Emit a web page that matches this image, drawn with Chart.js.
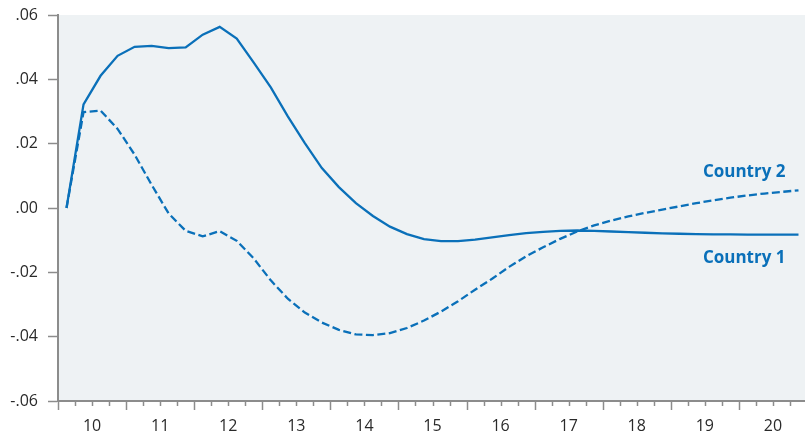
<!DOCTYPE html>
<html>
<head>
<meta charset="utf-8">
<script src="https://cdn.jsdelivr.net/npm/chart.js@4/dist/chart.umd.min.js"></script>
<style>
  html, body { margin: 0; padding: 0; background: #ffffff; overflow: hidden; }
  canvas { display: block; }
</style>
</head>
<body>
<canvas id="chart" width="807" height="433"></canvas>
<script>
// Quarterly periods, years 10 to 20
const years = ['10', '11', '12', '13', '14', '15', '16', '17', '18', '19', '20'];
const quarters = ['Q1', 'Q2', 'Q3', 'Q4'];

// Impulse responses, one value per quarter
const country1 = [
  0.0000, 0.0322, 0.0411, 0.0473, 0.0501, 0.0504, 0.0497, 0.0499,
  0.0539, 0.0563, 0.0527, 0.0452, 0.0375, 0.0285, 0.0202, 0.0124,
  0.0065, 0.0015, -0.0025, -0.0058, -0.0081, -0.0097, -0.0103, -0.0103,
  -0.0098, -0.0091, -0.0084, -0.0078, -0.0074, -0.0071, -0.0070, -0.0071,
  -0.0073, -0.0075, -0.0077, -0.0079, -0.0080, -0.0081, -0.0082, -0.0082,
  -0.0083, -0.0083, -0.0083, -0.0083
];
const country2 = [
  0.0000, 0.0298, 0.0303, 0.0246, 0.0166, 0.0072, -0.0017, -0.0071,
  -0.0088, -0.0072, -0.0102, -0.0157, -0.0225, -0.0282, -0.0325, -0.0356,
  -0.0379, -0.0393, -0.0395, -0.0389, -0.0373, -0.0350, -0.0322, -0.0290,
  -0.0254, -0.0220, -0.0183, -0.0150, -0.0122, -0.0096, -0.0073, -0.0054,
  -0.0039, -0.0026, -0.0015, -0.0005, 0.0005, 0.0015, 0.0024, 0.0032,
  0.0039, 0.0045, 0.0050, 0.0055
];
const seriesNames = ['Country 1', 'Country 2'];
const yTicks = [-0.06, -0.04, -0.02, 0.00, 0.02, 0.04, 0.06];

const categories = [];
years.forEach(y => quarters.forEach(q => categories.push(y + q)));

const BLUE = '#0a70b9';
const AXIS = '#8c8c8c';
const PANEL = '#eef2f4';
const TEXT = '#2a2a2a';
const FONT = "'Open Sans', 'DejaVu Sans', sans-serif";

function fmtTick(v) {
  const s = Math.abs(v).toFixed(2).replace(/^0/, '');
  return (v < -1e-9 ? '-' : '') + s;
}

// Shaded plotting panel
const panelPlugin = {
  id: 'panel',
  beforeDraw(chart) {
    const { ctx, chartArea: a } = chart;
    ctx.save();
    ctx.fillStyle = PANEL;
    ctx.fillRect(a.left, a.top, a.right - a.left, a.bottom - a.top);
    ctx.restore();
  }
};

// Quarter ticks along the time axis: long at year boundaries, short in between
const quarterTicks = {
  id: 'quarterTicks',
  afterDraw(chart) {
    const xs = chart.scales.x;
    const { ctx } = chart;
    const half = (xs.getPixelForValue(1) - xs.getPixelForValue(0)) / 2;
    const y0 = xs.top + 1;
    ctx.save();
    ctx.strokeStyle = AXIS;
    ctx.lineWidth = 1.5;
    for (let i = 0; i <= categories.length; i++) {
      const x = Math.round(xs.getPixelForValue(i) - half) + 0.5;
      const len = i % quarters.length === 0 ? 8 : 4;
      ctx.beginPath();
      ctx.moveTo(x, y0);
      ctx.lineTo(x, y0 + len);
      ctx.stroke();
    }
    ctx.restore();
  }
};

// Series names next to the line ends
const endLabels = {
  id: 'endLabels',
  afterDatasetsDraw(chart) {
    const { ctx } = chart;
    const xs = chart.scales.x, ys = chart.scales.y;
    const last = categories.length - 1;
    const xr = xs.getPixelForValue(last) - 13;
    ctx.save();
    ctx.font = "bold 17px " + FONT;
    ctx.fillStyle = BLUE;
    ctx.textAlign = 'right';
    ctx.textBaseline = 'alphabetic';
    ctx.fillText(seriesNames[1], xr, ys.getPixelForValue(country2[last]) - 13.5);
    ctx.fillText(seriesNames[0], xr, ys.getPixelForValue(country1[last]) + 28);
    ctx.restore();
  }
};

new Chart(document.getElementById('chart'), {
  type: 'line',
  data: {
    labels: categories,
    datasets: [
      {
        label: seriesNames[0],
        data: country1,
        borderColor: BLUE,
        borderWidth: 2.3,
        pointRadius: 0,
        tension: 0,
        fill: false
      },
      {
        label: seriesNames[1],
        data: country2,
        borderColor: BLUE,
        borderWidth: 2.3,
        borderDash: [8, 3.5],
        pointRadius: 0,
        tension: 0,
        fill: false
      }
    ]
  },
  options: {
    responsive: false,
    animation: false,
    events: [],
    layout: { padding: { top: 15, right: 0, bottom: 0, left: 0 } },
    plugins: {
      legend: { display: false },
      tooltip: { enabled: false }
    },
    scales: {
      x: {
        type: 'category',
        offset: true,
        grid: { display: false, offset: true },
        border: { display: true, color: AXIS, width: 2 },
        ticks: {
          autoSkip: false,
          maxRotation: 0,
          minRotation: 0,
          labelOffset: 8.5,
          padding: 8,
          color: TEXT,
          font: { family: FONT, size: 16 },
          callback: (v, i) => (i % quarters.length === 1 ? years[Math.floor(i / quarters.length)] : '')
        },
        afterFit(s) { s.height = 32; s.paddingLeft = 0; s.paddingRight = 0; }
      },
      y: {
        min: -0.06,
        max: 0.06,
        afterBuildTicks(s) { s.ticks = yTicks.map(v => ({ value: v })); },
        grid: {
          display: true,
          drawOnChartArea: false,
          drawTicks: true,
          tickLength: 10,
          tickColor: AXIS,
          tickWidth: 1.5
        },
        border: { display: true, color: AXIS, width: 2 },
        ticks: {
          padding: 10,
          color: TEXT,
          font: { family: FONT, size: 16 },
          callback: v => fmtTick(v)
        },
        afterFit(s) { s.width = 58; s.paddingTop = 0; s.paddingBottom = 0; }
      }
    }
  },
  plugins: [panelPlugin, quarterTicks, endLabels]
});
</script>
</body>
</html>
